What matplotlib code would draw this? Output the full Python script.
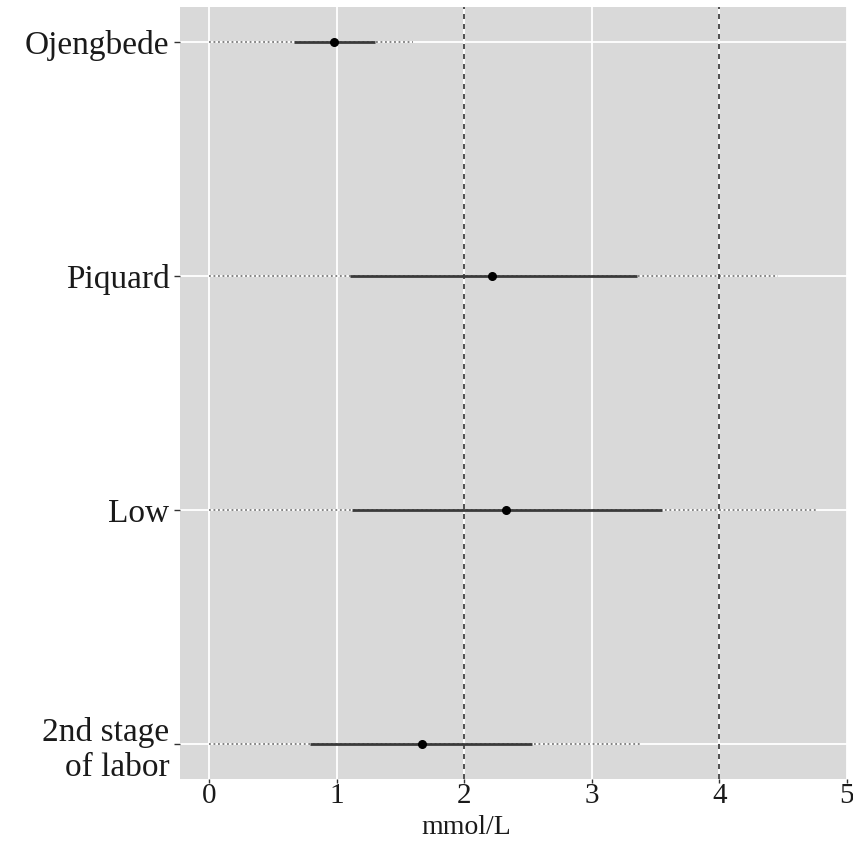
import numpy as np
import matplotlib.pyplot as plt

studies = ["Ojengbede", "Piquard", "Low", "2nd stage\nof labor"]
means = [0.98, 2.22, 2.33, 1.67]
inner_lo = [0.66, 1.10, 1.12, 0.79]
inner_hi = [1.30, 3.35, 3.55, 2.53]
outer_lo = [0.0, 0.0, 0.0, 0.0]
outer_hi = [1.60, 4.46, 4.77, 3.39]
ref_lines = [2, 4]
xticks = [0, 1, 2, 3, 4, 5]

plt.rcParams['font.family'] = ['Liberation Serif', 'DejaVu Serif']

fig = plt.figure(figsize=(8.54, 8.41), dpi=100)
ax = fig.add_axes([0.2108, 1 - 779 / 841, 0.7810, (779 - 7) / 841])
ax.set_facecolor('#d9d9d9')
for s in ax.spines.values():
    s.set_visible(False)

ypos = np.arange(len(studies))

ax.set_axisbelow(True)
ax.grid(True, color='white', linewidth=1.3)

ax.hlines(ypos, outer_lo, outer_hi, colors='#7a7a7a', linestyles=(0, (1, 1.5)), linewidth=1.3, zorder=2)
ax.hlines(ypos, inner_lo, inner_hi, colors='#3a3a3a', linewidth=2, zorder=3)
ax.scatter(means, ypos, s=30, color='black', zorder=4)

for r in ref_lines:
    ax.axvline(r, color='#333333', linestyle=(0, (3, 3)), linewidth=1.2, zorder=2.5)

ax.set_xlim(-0.23, 5.0)
ax.set_ylim(3.15, -0.15)
ax.set_xticks(xticks)
ax.set_yticks(ypos)
ax.set_yticklabels(studies, linespacing=1.2)
ax.tick_params(axis='both', colors='#333333', labelcolor='#1a1a1a', labelsize=24, length=4, width=1)
ax.tick_params(axis='x', pad=0, length=3, labelsize=21)

# x label sits left of the panel centre in the reference
fig.text(466 / 854, 1 - 840 / 841, 'mmol/L', fontsize=20, color='#1a1a1a',
         ha='center', va='bottom')

fig.savefig('out.png', dpi=100)
